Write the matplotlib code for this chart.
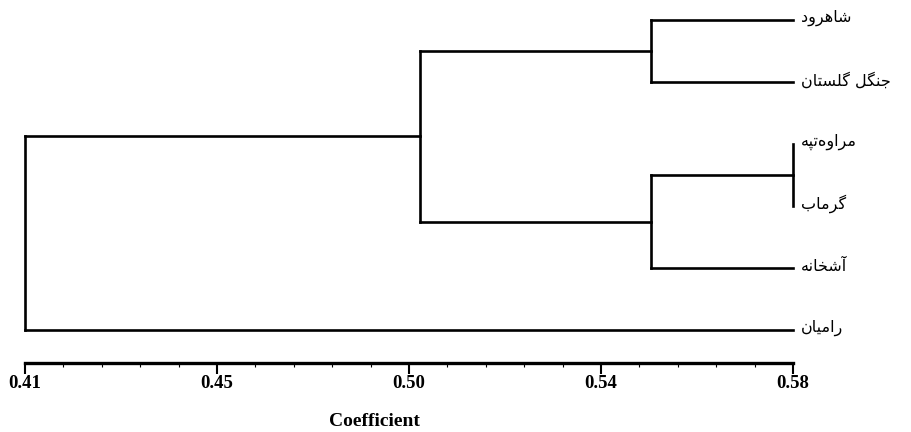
import numpy as np
import matplotlib
matplotlib.use("Agg")
import matplotlib.pyplot as plt

# ---------------- data ----------------
leaf_labels = ["شاهرود", "جنگل گلستان", "مراوه‌تپه", "گرماب", "آشخانه", "رامیان"]
merge_left = [2, 0, 6, 7, 9]
merge_right = [3, 1, 4, 8, 5]
merge_height = [0.58, 0.5485, 0.5485, 0.4975, 0.41]
tick_values = [0.41, 0.4525, 0.495, 0.5375, 0.58]
tick_labels = ["0.41", "0.45", "0.50", "0.54", "0.58"]
axis_label = "Coefficient"

# ------------- simple Arabic/Persian shaping -------------
FORMS = {
    "ا": ("\uFE8D", "\uFE8E", None, None),
    "آ": ("\uFE81", "\uFE82", None, None),
    "ب": ("\uFE8F", "\uFE90", "\uFE91", "\uFE92"),
    "پ": ("\uFB56", "\uFB57", "\uFB58", "\uFB59"),
    "ت": ("\uFE95", "\uFE96", "\uFE97", "\uFE98"),
    "ج": ("\uFE9D", "\uFE9E", "\uFE9F", "\uFEA0"),
    "خ": ("\uFEA5", "\uFEA6", "\uFEA7", "\uFEA8"),
    "د": ("\uFEA9", "\uFEAA", None, None),
    "ر": ("\uFEAD", "\uFEAE", None, None),
    "س": ("\uFEB1", "\uFEB2", "\uFEB3", "\uFEB4"),
    "ش": ("\uFEB5", "\uFEB6", "\uFEB7", "\uFEB8"),
    "گ": ("\uFB92", "\uFB93", "\uFB94", "\uFB95"),
    "ل": ("\uFEDD", "\uFEDE", "\uFEDF", "\uFEE0"),
    "م": ("\uFEE1", "\uFEE2", "\uFEE3", "\uFEE4"),
    "ن": ("\uFEE5", "\uFEE6", "\uFEE7", "\uFEE8"),
    "ه": ("\uFEE9", "\uFEEA", "\uFEEB", "\uFEEC"),
    "و": ("\uFEED", "\uFEEE", None, None),
    "ی": ("\uFBFC", "\uFBFD", "\uFEF3", "\uFEF4"),
}


def shape(text):
    out = []
    n = len(text)
    for i, ch in enumerate(text):
        if ch not in FORMS:
            if ch != "\u200c":
                out.append(ch)
            continue
        prev = text[i - 1] if i > 0 else None
        nxt = text[i + 1] if i < n - 1 else None
        joins_prev = prev in FORMS and FORMS[prev][2] is not None
        joins_next = FORMS[ch][2] is not None and nxt in FORMS
        iso, fin, ini, med = FORMS[ch]
        if joins_prev and joins_next:
            out.append(med)
        elif joins_prev:
            out.append(fin)
        elif joins_next:
            out.append(ini)
        else:
            out.append(iso)
    return "".join(reversed(out))


# ---------------- figure ----------------
W, H = 911, 432
fig = plt.figure(figsize=(W / 100, H / 100), dpi=100)
x0, x1 = 25, 793
ax_bottom = 363
ax = fig.add_axes([x0 / W, (H - ax_bottom) / H, (x1 - x0) / W, ax_bottom / H])

top_leaf_px, spacing_px = 20, 62
ax.set_ylim((ax_bottom - top_leaf_px) / spacing_px, -top_leaf_px / spacing_px)
ax.set_xlim(tick_values[0], tick_values[-1])

n = len(leaf_labels)
xmax = max(merge_height)
node_x = {i: xmax for i in range(n)}
node_y = {i: float(i) for i in range(n)}
lw = 1.9
for k, (a, b, h) in enumerate(zip(merge_left, merge_right, merge_height)):
    nid = n + k
    for c in (a, b):
        ax.plot([node_x[c], h], [node_y[c], node_y[c]], color="black", lw=lw,
                solid_capstyle="projecting", clip_on=False)
    ax.plot([h, h], [node_y[a], node_y[b]], color="black", lw=lw,
            solid_capstyle="projecting", clip_on=False)
    node_x[nid] = h
    node_y[nid] = (node_y[a] + node_y[b]) / 2

for i, lab in enumerate(leaf_labels):
    ax.text(xmax + 0.0018, i - 0.03, shape(lab), ha="left", va="center",
            fontsize=11.5, family="DejaVu Sans", clip_on=False)

for s in ("left", "top", "right"):
    ax.spines[s].set_visible(False)
ax.spines["bottom"].set_linewidth(2.4)
ax.set_yticks([])
ax.set_xticks(tick_values)
ax.set_xticklabels(tick_labels, family="Liberation Serif", fontweight="bold", fontsize=13.5)
ax.set_xticks(np.linspace(tick_values[0], tick_values[-1], 21), minor=True)
ax.tick_params(axis="x", which="major", length=8, width=1.5, pad=1)
ax.tick_params(axis="x", which="minor", length=3, width=0.8)

fig.text(374 / W, 1 - 421 / H, axis_label, ha="center", va="center",
         family="Liberation Serif", fontweight="bold", fontsize=14)

fig.savefig("out.png", dpi=100)
